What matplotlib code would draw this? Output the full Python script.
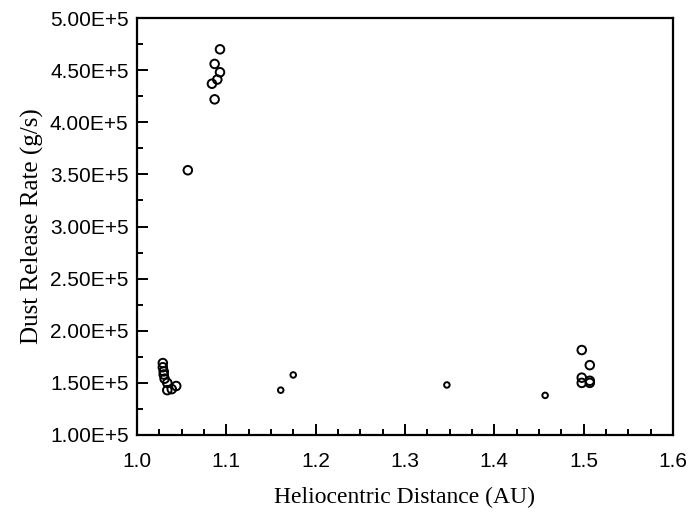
import numpy as np
import matplotlib.pyplot as plt
from matplotlib.ticker import MultipleLocator, FuncFormatter

# dust release rate vs heliocentric distance
# bigger circles
x_big = [1.029, 1.029, 1.030, 1.030, 1.031, 1.034, 1.034, 1.039, 1.044,
         1.093, 1.087, 1.093, 1.090, 1.084, 1.087, 1.057,
         1.498, 1.507, 1.498, 1.498, 1.507, 1.507]
y_big = [1.69e5, 1.65e5, 1.61e5, 1.58e5, 1.54e5, 1.50e5, 1.43e5, 1.44e5, 1.47e5,
         4.70e5, 4.56e5, 4.48e5, 4.41e5, 4.37e5, 4.22e5, 3.54e5,
         1.815e5, 1.67e5, 1.55e5, 1.50e5, 1.52e5, 1.50e5]
# small circles
x_small = [1.161, 1.175, 1.347, 1.457]
y_small = [1.43e5, 1.576e5, 1.48e5, 1.38e5]

fig = plt.figure(figsize=(6.88, 5.16), dpi=100)
ax = fig.add_axes([0.199, 0.157, 0.779, 0.808])

ax.scatter(x_big, y_big, s=38, facecolors='none', edgecolors='black', linewidths=1.4)
ax.scatter(x_small, y_small, s=16, facecolors='none', edgecolors='black', linewidths=1.4)

ax.set_xlim(1.0, 1.6)
ax.set_ylim(1.0e5, 5.0e5)
ax.xaxis.set_major_locator(MultipleLocator(0.1))
ax.xaxis.set_minor_locator(MultipleLocator(0.025))
ax.yaxis.set_major_locator(MultipleLocator(0.5e5))
ax.yaxis.set_minor_locator(MultipleLocator(0.25e5))
ax.xaxis.set_major_formatter(FuncFormatter(lambda v, p: '%.1f' % v))
ax.yaxis.set_major_formatter(FuncFormatter(lambda v, p: '%.2fE+5' % (v / 1e5)))

ax.tick_params(which='both', direction='in', top=False, right=False, width=1.4)
ax.tick_params(which='major', length=8, labelsize=15)
ax.tick_params(axis='x', which='major', pad=12)
ax.tick_params(axis='y', which='major', pad=6)
ax.tick_params(which='minor', length=4)
for lab in ax.get_xticklabels() + ax.get_yticklabels():
    lab.set_family('Liberation Sans')
for s in ax.spines.values():
    s.set_linewidth(1.6)

ax.set_xlabel('Heliocentric Distance (AU)', family='Liberation Serif', fontsize=17, labelpad=12)
ax.set_ylabel('Dust Release Rate (g/s)', family='Liberation Serif', fontsize=18, labelpad=4)

fig.savefig('out.png', dpi=100)
